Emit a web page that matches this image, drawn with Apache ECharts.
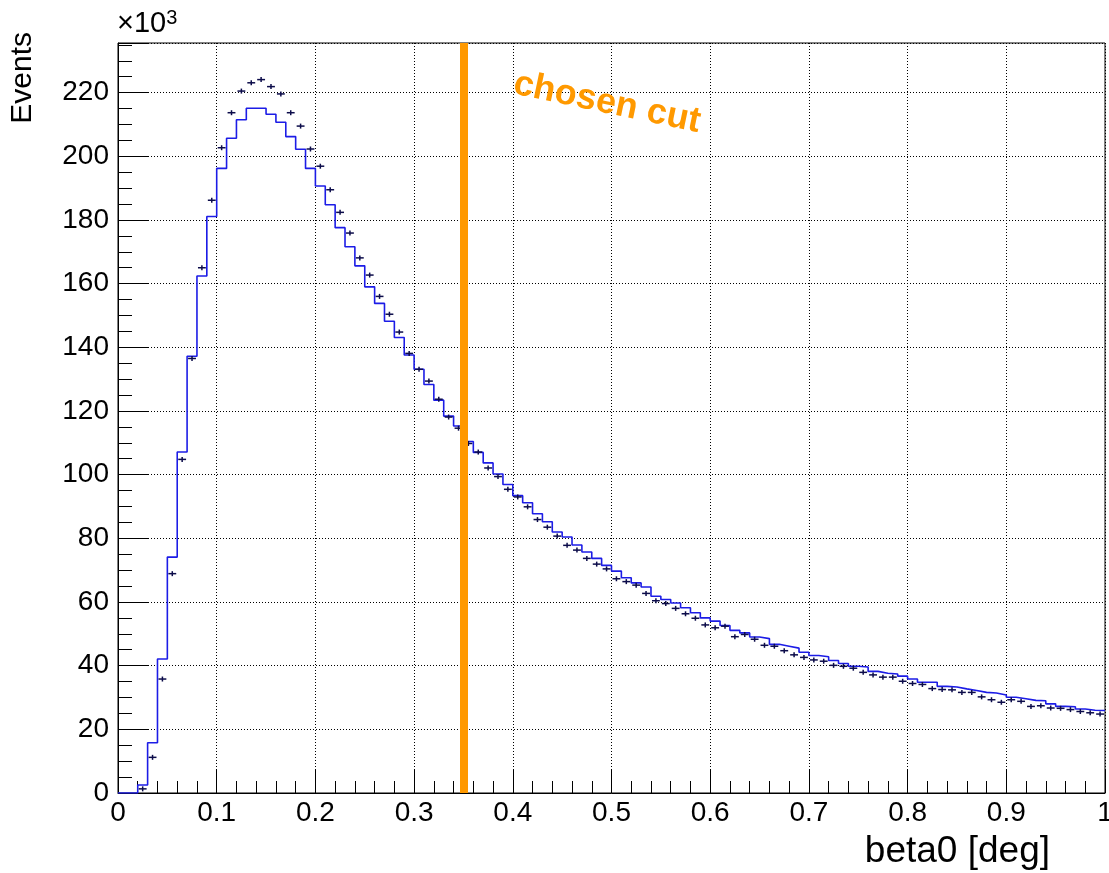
<!DOCTYPE html>
<html>
<head>
<meta charset="utf-8">
<script src="https://cdn.jsdelivr.net/npm/echarts@6/dist/echarts.min.js"></script>
<style>
html, body { margin: 0; padding: 0; background: #fff; }
#chart { width: 1109px; height: 873px; }
</style>
</head>
<body>
<div id="chart"></div>
<script>
// beta0 histogram, 100 bins of 0.01 deg, values in units of 10^3 events
var binWidth = 0.01;
var xMin = 0, xMax = 1;
var yMin = 0, yMax = 235.6;
var cutValue = 0.3504;

// blue histogram (bin contents)
var histValues = [
    0, 0, 2.5, 15.8, 42.1, 74.1, 107.1, 137.2, 162.4, 181.1,
    196.2, 205.7, 211.5, 215.1, 215.1, 213.2, 210.7, 206.2, 202.2, 196.2,
    190.7, 184.8, 177.6, 171.6, 165.6, 159.0, 153.8, 148.2, 143.1, 137.6,
    133.1, 128.3, 123.4, 118.4, 115.3, 110.4, 107.0, 103.7, 100.2, 96.9,
    93.4, 91.2, 87.7, 85.2, 82.0, 80.4, 77.9, 75.7, 73.7, 71.5,
    69.7, 67.6, 66.0, 64.7, 61.8, 60.8, 59.7, 58.2, 56.6, 55.0,
    54.0, 52.6, 51.1, 50.3, 49.0, 48.5, 46.7, 46.1, 45.5, 44.2,
    43.2, 42.8, 41.6, 40.7, 39.8, 39.6, 38.2, 37.6, 37.4, 36.7,
    35.8, 34.8, 34.8, 33.5, 33.3, 32.7, 32.2, 31.6, 31.4, 30.8,
    30.1, 29.6, 29.1, 29.0, 28.0, 27.2, 27.1, 26.4, 26.0, 25.9
];

// data points (crosses), null = not drawn
var dataValues = [
    null, null, 1.3, 11.2, 35.8, 68.9, 104.8, 136.5, 165.0, 186.2,
    202.7, 213.7, 220.5, 223.1, 224.1, 221.9, 219.6, 213.7, 209.5, 202.3,
    196.9, 189.5, 182.4, 175.9, 168.1, 162.7, 156.0, 150.4, 144.8, 138.1,
    133.1, 129.4, 123.7, 118.1, 114.6, 109.8, 107.1, 102.1, 99.4, 95.4,
    93.0, 89.9, 85.9, 83.5, 80.7, 77.8, 76.3, 73.7, 71.9, 70.4,
    67.3, 66.4, 65.3, 62.7, 60.4, 59.5, 58.0, 56.3, 54.9, 52.8,
    51.9, 52.4, 49.1, 49.8, 48.3, 46.4, 46.1, 44.7, 43.4, 42.6,
    41.8, 41.4, 40.1, 39.8, 39.2, 37.9, 37.1, 36.4, 36.4, 35.1,
    34.4, 34.1, 32.8, 32.5, 32.4, 31.6, 31.6, 30.2, 29.3, 28.5,
    29.3, 28.8, 27.2, 27.4, 26.7, 26.6, 26.2, 25.6, 25.2, 24.8
];

var font = '"Liberation Sans", Arial, Helvetica, sans-serif';

// step line points: left edge of every bin, plus the last right edge
var histPoints = histValues.map(function (v, i) { return [i * binWidth, v]; });
histPoints.push([xMax, histValues[histValues.length - 1]]);

var dataPoints = [];
dataValues.forEach(function (v, i) {
    if (v !== null) dataPoints.push([(i + 0.5) * binWidth, v]);
});

var chart = echarts.init(document.getElementById('chart'));

var option = {
    backgroundColor: '#fff',
    animation: false,
    textStyle: { fontFamily: font },
    grid: {
        left: 118,
        right: 4,
        top: 43,
        bottom: 80,
        outerBoundsMode: 'none',
        show: true,
        borderColor: '#000',
        borderWidth: 1,
        backgroundColor: 'transparent'
    },
    xAxis: {
        type: 'value',
        min: xMin,
        max: xMax,
        interval: 0.1,
        name: 'beta0 [deg]',
        nameLocation: 'end',
        nameGap: -55,
        nameTextStyle: {
            color: '#000', fontSize: 37, fontFamily: font,
            align: 'right', verticalAlign: 'top', padding: [40, 0, 0, 0]
        },
        axisLine: { lineStyle: { color: '#000', width: 1 } },
        axisTick: { inside: true, length: 23, lineStyle: { color: '#000', width: 1 } },
        minorTick: { show: true, splitNumber: 5, length: 12, lineStyle: { color: '#000', width: 1 } },
        splitLine: { show: true, lineStyle: { color: '#000', width: 1, type: [1, 2] } },
        axisLabel: { color: '#000', fontSize: 28, fontFamily: font, margin: 6 }
    },
    yAxis: [{
        type: 'value',
        min: yMin,
        max: yMax,
        interval: 20,
        name: 'Events',
        nameLocation: 'end',
        nameRotate: 90,
        nameGap: 11,
        nameTextStyle: {
            color: '#000', fontSize: 30, fontFamily: font,
            align: 'right', verticalAlign: 'bottom', padding: [0, 0, 80, 0]
        },
        axisLine: { lineStyle: { color: '#000', width: 1 } },
        axisTick: { inside: true, length: 30, lineStyle: { color: '#000', width: 1 } },
        splitLine: { show: true, lineStyle: { color: '#000', width: 1, type: [1, 2] } },
        axisLabel: {
            color: '#000', fontSize: 28, fontFamily: font, margin: 9,
            formatter: function (v) { return v % 20 === 0 ? String(v) : ''; }
        }
    }, {
        // minor ticks every 5k
        type: 'value',
        min: yMin,
        max: yMax,
        interval: 5,
        position: 'left',
        axisLine: { show: false },
        axisTick: { inside: true, length: 14, lineStyle: { color: '#000', width: 1 } },
        splitLine: { show: false },
        axisLabel: { show: false }
    }],
    graphic: [{
        type: 'text',
        left: 117,
        top: 8,
        style: {
            text: '×10{s|3}',
            fill: '#000',
            font: '29px ' + font,
            rich: { s: { fontSize: 20, verticalAlign: 'top', padding: [0, 0, 12, 0], fill: '#000' } }
        }
    }, {
        type: 'text',
        x: 607,
        y: 103,
        rotation: -0.206,
        z: 20,
        style: {
            text: 'chosen cut',
            fill: '#ff9900',
            font: 'bold 36px ' + font,
            textAlign: 'center',
            textVerticalAlign: 'middle'
        }
    }],
    series: [{
        name: 'hist',
        type: 'line',
        step: 'end',
        data: histPoints,
        showSymbol: false,
        symbol: 'none',
        clip: true,
        lineStyle: { color: '#1c1ce6', width: 1.6 },
        z: 3
    }, {
        name: 'data',
        type: 'custom',
        data: dataPoints,
        clip: true,
        z: 4,
        renderItem: function (params, api) {
            var xc = api.value(0), v = api.value(1);
            var l = api.coord([xc - binWidth / 2, v]);
            var r = api.coord([xc + binWidth / 2, v]);
            var c = api.coord([xc, v]);
            var st = { stroke: '#0c0c4a', lineWidth: 1.5 };
            return {
                type: 'group',
                children: [
                    { type: 'line', shape: { x1: l[0] + 1, y1: c[1], x2: r[0] - 1, y2: c[1] }, style: st },
                    { type: 'line', shape: { x1: c[0], y1: c[1] - 2.5, x2: c[0], y2: c[1] + 2.5 }, style: st }
                ]
            };
        }
    }, {
        name: 'cut',
        type: 'line',
        data: [],
        z: 10,
        markLine: {
            silent: true,
            symbol: 'none',
            label: { show: false },
            lineStyle: { color: '#ff9900', width: 8, type: 'solid' },
            data: [{ xAxis: cutValue }]
        }
    }]
};

chart.setOption(option);
</script>
</body>
</html>
